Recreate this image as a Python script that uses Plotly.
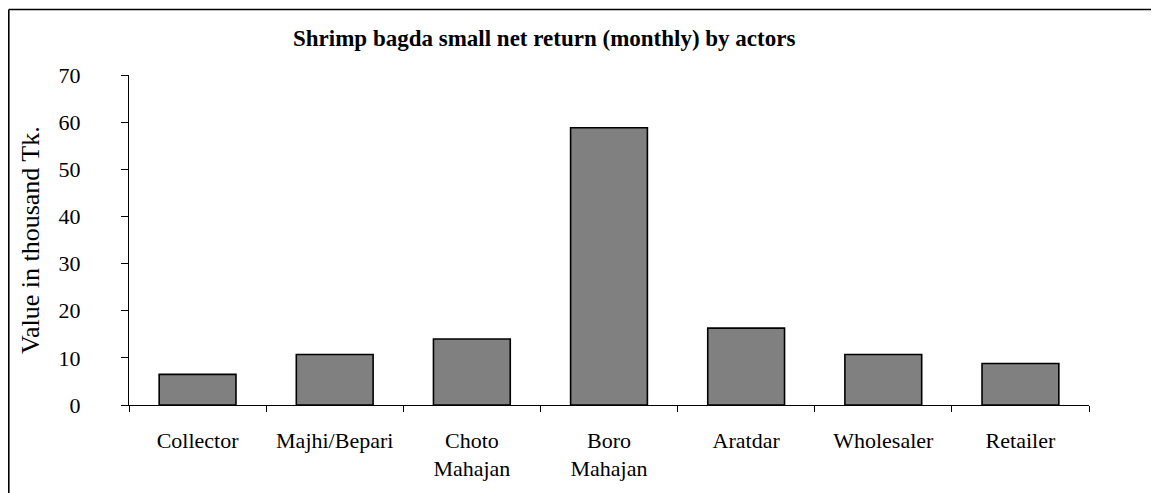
import plotly.graph_objects as go

categories = ["Collector", "Majhi/Bepari", "Choto<br>Mahajan", "Boro<br>Mahajan",
              "Aratdar", "Wholesaler", "Retailer"]
values = [6.5, 10.7, 14.0, 58.8, 16.3, 10.7, 8.8]
y_ticks = [0, 10, 20, 30, 40, 50, 60, 70]

title_text = "Shrimp bagda small net return (monthly) by actors"
y_title = "Value in thousand Tk."

FONT = "Liberation Serif, Times New Roman, serif"

fig = go.Figure(go.Bar(
    x=categories, y=values,
    marker=dict(color="#808080", line=dict(color="#000000", width=1.6)),
    width=0.56,
))

# page has an 8px body margin; work in page pixels and convert
OFF = 8
W, H = 1159 - OFF, 493 - OFF
PL, PR, PT, PB = 129, 1089, 75, 405  # plot area in page pixels
L, T = PL - OFF, PT - OFF
R = W - (PR - OFF)
B = H - (PB - OFF)
pw, ph = PR - PL, PB - PT

def px_x(p):
    return (p - PL) / pw

def px_y(p):
    return (PB - p) / ph

fig.update_layout(
    width=W, height=H,
    margin=dict(l=L, r=R, t=T, b=B, autoexpand=False),
    paper_bgcolor="white", plot_bgcolor="white",
    showlegend=False,
    font=dict(family=FONT, color="black", size=22),
    bargap=0.44,
    xaxis=dict(
        showline=True, linecolor="black", linewidth=1.3,
        ticks="outside", ticklen=6, tickcolor="black", tickwidth=1.3,
        tickson="boundaries", showgrid=False, zeroline=False,
        tickfont=dict(family=FONT, size=22, color="black"),
        ticklabelstandoff=15,
    ),
    yaxis=dict(
        range=[0, 70], tickvals=y_ticks, ticktext=[str(v) for v in y_ticks],
        showline=True, linecolor="black", linewidth=1.3,
        ticks="outside", ticklen=7, tickcolor="black", tickwidth=1.3,
        showgrid=False, zeroline=False,
        tickfont=dict(family=FONT, size=22, color="black"),
        ticklabelstandoff=36,
    ),
    annotations=[
        dict(text="<b>" + title_text + "</b>", xref="paper", yref="paper",
             x=px_x(543.5), y=px_y(38), xanchor="center", yanchor="middle",
             showarrow=False, font=dict(family=FONT, size=23, color="black")),
        dict(text=y_title, xref="paper", yref="paper",
             x=px_x(30), y=px_y(240), xanchor="center", yanchor="middle",
             textangle=-90, showarrow=False,
             font=dict(family=FONT, size=26, color="black")),
    ],
    shapes=[
        dict(type="line", xref="paper", yref="paper",
             x0=px_x(8.8), x1=px_x(8.8), y0=px_y(520), y1=px_y(9.5),
             line=dict(color="black", width=1.6)),
        dict(type="line", xref="paper", yref="paper",
             x0=px_x(8.8), x1=px_x(1180), y0=px_y(9.5), y1=px_y(9.5),
             line=dict(color="black", width=1.6)),
    ],
)

fig.write_html("out.html")
